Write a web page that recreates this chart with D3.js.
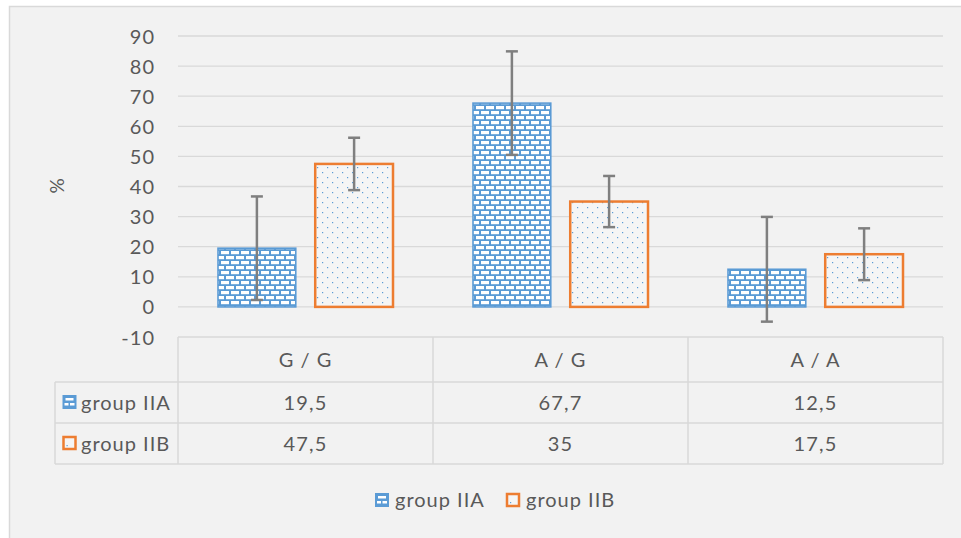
<!DOCTYPE html>
<html>
<head>
<meta charset="utf-8">
<script src="https://cdn.jsdelivr.net/npm/d3@7"></script>
<style>
  html, body { margin: 0; padding: 0; background: #ffffff; }
  svg { display: block; }
  text { font-family: Lato, "Open Sans", sans-serif; fill: #595959; }
</style>
</head>
<body>
<svg id="chart" width="961" height="538"></svg>
<script>
// ---- data ----
const categories = ["G / G", "A / G", "A / A"];
const groups = ["group IIA", "group IIB"];
const valuesIIA = [19.5, 67.7, 12.5];
const valuesIIB = [47.5, 35, 17.5];
const errorIIA = [17.2, 17.2, 17.4];
const errorIIB = [8.7, 8.5, 8.6];
const yTicks = [-10, 0, 10, 20, 30, 40, 50, 60, 70, 80, 90];
const yLabel = "%";

const blue = "#5b9bd5", orange = "#ed7d31", grid = "#d9d9d9", errCol = "#7f7f7f";

const svg = d3.select("#chart");

// patterns
const defs = svg.append("defs");
const brick = defs.append("pattern").attr("id", "brick")
  .attr("patternUnits", "userSpaceOnUse").attr("width", 10).attr("height", 10);
brick.append("rect").attr("width", 10).attr("height", 10).attr("fill", blue);
brick.append("rect").attr("x", 1).attr("y", 1).attr("width", 8).attr("height", 3.2).attr("fill", "#ffffff");
brick.append("rect").attr("x", -4).attr("y", 6).attr("width", 8).attr("height", 3.2).attr("fill", "#ffffff");
brick.append("rect").attr("x", 6).attr("y", 6).attr("width", 8).attr("height", 3.2).attr("fill", "#ffffff");

const dots = defs.append("pattern").attr("id", "dots")
  .attr("patternUnits", "userSpaceOnUse").attr("width", 10).attr("height", 10);
dots.append("rect").attr("width", 10).attr("height", 10).attr("fill", "#f5f5f5");
dots.append("rect").attr("x", 2).attr("y", 2).attr("width", 1.2).attr("height", 1.2).attr("fill", blue);
dots.append("rect").attr("x", 7).attr("y", 7).attr("width", 1.2).attr("height", 1.2).attr("fill", blue);

// chart area
svg.append("rect").attr("x", 9.5).attr("y", 6.5).attr("width", 960).attr("height", 540)
  .attr("fill", "#f2f2f2").attr("stroke", grid).attr("stroke-width", 1.5);

// scales
const plotLeft = 178, plotRight = 943;
const y = d3.scaleLinear().domain([-10, 90]).range([337, 36]);
const x0 = d3.scaleBand().domain(categories).range([plotLeft, plotRight]).padding(0);
const x1 = d3.scaleBand().domain(groups).range([40, x0.bandwidth() - 40]).paddingInner(0.2);

// gridlines
svg.append("g").selectAll("line").data(yTicks.filter(t => t >= 0)).join("line")
  .attr("x1", plotLeft).attr("x2", plotRight)
  .attr("y1", d => y(d)).attr("y2", d => y(d))
  .attr("stroke", grid).attr("stroke-width", 1.3);

// y axis
const yAxis = d3.axisLeft(y).tickValues(yTicks).tickSize(0).tickPadding(0)
  .tickFormat(d => String(d));
const ya = svg.append("g").attr("transform", "translate(155,0)").call(yAxis);
ya.select(".domain").remove();
ya.selectAll("text").style("font-size", "20px").style("letter-spacing", "1px")
  .attr("fill", "#595959").attr("font-family", "Lato, sans-serif").attr("dy", "0.35em");

svg.append("text").attr("transform", "translate(59,186) rotate(-90)")
  .attr("text-anchor", "middle").attr("dominant-baseline", "middle")
  .style("font-size", "19px").text(yLabel);

// bars
const series = [
  { name: groups[0], values: valuesIIA, errors: errorIIA, fill: "url(#brick)", stroke: blue, sw: 1.6 },
  { name: groups[1], values: valuesIIB, errors: errorIIB, fill: "url(#dots)", stroke: orange, sw: 2.5 }
];
series.forEach(s => {
  const g = svg.append("g");
  g.selectAll("rect").data(categories).join("rect")
    .attr("x", (c) => x0(c) + x1(s.name))
    .attr("y", (c, i) => y(s.values[i]))
    .attr("width", x1.bandwidth())
    .attr("height", (c, i) => y(0) - y(s.values[i]))
    .attr("fill", s.fill).attr("stroke", s.stroke).attr("stroke-width", s.sw);
});
// error bars
series.forEach(s => {
  const g = svg.append("g").attr("stroke", errCol).attr("stroke-width", 2.5);
  categories.forEach((c, i) => {
    const cx = x0(c) + x1(s.name) + x1.bandwidth() / 2;
    const hi = y(s.values[i] + s.errors[i]), lo = y(s.values[i] - s.errors[i]);
    g.append("line").attr("x1", cx).attr("x2", cx).attr("y1", hi).attr("y2", lo);
    g.append("line").attr("x1", cx - 6).attr("x2", cx + 6).attr("y1", hi).attr("y2", hi);
    g.append("line").attr("x1", cx - 6).attr("x2", cx + 6).attr("y1", lo).attr("y2", lo);
  });
});

// data table
const tTop = y(-10), r1 = 382, r2 = 423, r3 = 464, tLeft = 55;
const tg = svg.append("g").attr("stroke", grid).attr("stroke-width", 1.5);
tg.append("line").attr("x1", plotLeft).attr("x2", plotRight).attr("y1", tTop).attr("y2", tTop);
[r1, r2, r3].forEach(yy => tg.append("line").attr("x1", tLeft).attr("x2", plotRight).attr("y1", yy).attr("y2", yy));
tg.append("line").attr("x1", tLeft).attr("x2", tLeft).attr("y1", r1).attr("y2", r3);
[plotLeft, ...categories.map(c => x0(c) + x0.bandwidth())].forEach(xx =>
  tg.append("line").attr("x1", xx).attr("x2", xx).attr("y1", tTop).attr("y2", r3));

const fmt = v => String(v).replace(".", ",");
svg.append("g").selectAll("text").data(categories).join("text")
  .attr("x", c => x0(c) + x0.bandwidth() / 2).attr("y", (tTop + r1) / 2)
  .attr("text-anchor", "middle").attr("dy", "0.35em").style("font-size", "20px")
  .style("letter-spacing", "1px").text(c => c);
[[valuesIIA, (r1 + r2) / 2], [valuesIIB, (r2 + r3) / 2]].forEach(([vals, yy]) => {
  svg.append("g").selectAll("text").data(categories).join("text")
    .attr("x", c => x0(c) + x0.bandwidth() / 2).attr("y", yy)
    .attr("text-anchor", "middle").attr("dy", "0.35em").style("font-size", "20px")
    .style("letter-spacing", "1.2px").text((c, i) => fmt(vals[i]));
});

// legend icon helper
function icon(g, s, x, yy) {
  if (s.stroke === blue) {
    g.append("rect").attr("x", x).attr("y", yy).attr("width", 14).attr("height", 14)
      .attr("fill", blue);
    g.append("rect").attr("x", x + 3).attr("y", yy + 3).attr("width", 8).attr("height", 2.5).attr("fill", "#fff");
    g.append("rect").attr("x", x + 2).attr("y", yy + 8).attr("width", 4).attr("height", 2.5).attr("fill", "#fff");
    g.append("rect").attr("x", x + 7.5).attr("y", yy + 8).attr("width", 4.5).attr("height", 2.5).attr("fill", "#fff");
  } else {
    g.append("rect").attr("x", x + 1).attr("y", yy + 1).attr("width", 12).attr("height", 12)
      .attr("fill", "#f5f5f5").attr("stroke", orange).attr("stroke-width", 2.5);
    g.append("rect").attr("x", x + 4).attr("y", yy + 9).attr("width", 1.2).attr("height", 1.2).attr("fill", blue);
  }
}
// table row headers
[[series[0], (r1 + r2) / 2], [series[1], (r2 + r3) / 2]].forEach(([s, yy]) => {
  const g = svg.append("g");
  icon(g, s, 62.5, yy - 7.5);
  g.append("text").attr("x", 81).attr("y", yy).attr("dy", "0.35em")
    .style("font-size", "20px").style("letter-spacing", "1px").text(s.name);
});

// bottom legend
const lg = svg.append("g");
const legX = [375, 506];
series.forEach((s, i) => {
  icon(lg, s, legX[i], 493);
  lg.append("text").attr("x", legX[i] + 20).attr("y", 500).attr("dy", "0.35em")
    .style("font-size", "20px").style("letter-spacing", "1px").text(s.name);
});
</script>
</body>
</html>
